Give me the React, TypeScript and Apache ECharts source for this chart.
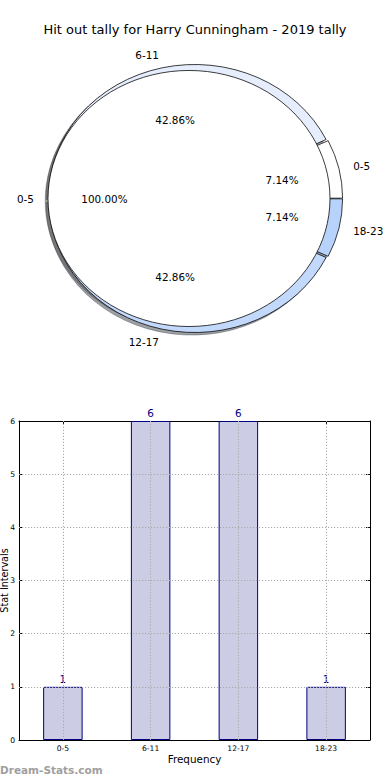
import React, { useEffect, useRef } from "react";
import * as echarts from "echarts";

// ---------- data ----------
const titleText = "Hit out tally for Harry Cunningham - 2019 tally";

const innerLabels = ["0-5"];
const innerValues = [1];
const innerColors = ["#ffffff"];
const innerExplode = [0];

const outerLabels = ["0-5", "6-11", "12-17", "18-23"];
const outerValues = [1, 6, 6, 1];
const outerColors = ["#ffffff", "#e6eefd", "#c3d9fb", "#b7d3fb"];
const outerExplode = [0.012, 0.012, 0.012, 0.012];

const barCategories = ["0-5", "6-11", "12-17", "18-23"];
const barValues = [1, 6, 6, 1];
const yGridValues = [1, 2, 3, 4, 5];

const xAxisTitle = "Frequency";
const yAxisTitle = "Stat Intervals";
const watermark = "Dream-Stats.com";

// ---------- layout / style ----------
const FONT = "DejaVu Sans";
const SX = 141; // px per pie unit, horizontal
const SY = 128; // px per pie unit, vertical
const innerPie = { cx: 189, cy: 198.5, r: 1 };
const outerPie = { cx: 195, cy: 198.5, r: 1.035 };
const SHADOW_DX = -0.02;
const SHADOW_DY = -0.02;

function shade(hex: string): string {
  const h = hex.replace("#", "");
  const r = parseInt(h.slice(0, 2), 16);
  const g = parseInt(h.slice(2, 4), 16);
  const b = parseInt(h.slice(4, 6), 16);
  return `rgba(${Math.round(r * 0.3)},${Math.round(g * 0.3)},${Math.round(b * 0.3)},0.5)`;
}

function wedgeGeom(values: number[], explode: number[], i: number) {
  const total = values.reduce((a, b) => a + b, 0);
  let cum = 0;
  for (let k = 0; k < i; k++) cum += values[k];
  const t1 = (2 * Math.PI * cum) / total;
  const t2 = (2 * Math.PI * (cum + values[i])) / total;
  const tm = (t1 + t2) / 2;
  const ex = explode[i] || 0;
  return { total, t1, t2, tm, ox: ex * Math.cos(tm), oy: ex * Math.sin(tm) };
}

function makeWedgeSeries(
  name: string,
  values: number[],
  colors: string[],
  explode: number[],
  pie: { cx: number; cy: number; r: number },
  asShadow: boolean,
  z: number
) {
  return {
    type: "custom",
    name,
    coordinateSystem: "none",
    silent: true,
    z,
    data: values,
    renderItem: (params: any) => {
      const i = params.dataIndex;
      const g = wedgeGeom(values, explode, i);
      let px = pie.cx + g.ox * SX;
      let py = pie.cy - g.oy * SY;
      if (asShadow) {
        px += SHADOW_DX * SX;
        py -= SHADOW_DY * SY;
      }
      const col = asShadow ? shade(colors[i]) : colors[i];
      return {
        type: "group",
        x: px,
        y: py,
        scaleY: SY / SX,
        children: [
          {
            type: "sector",
            shape: {
              cx: 0,
              cy: 0,
              r0: 0,
              r: pie.r * SX,
              startAngle: -g.t2,
              endAngle: -g.t1,
              clockwise: true,
            },
            style: {
              fill: col,
              stroke: asShadow ? col : "#000000",
              lineWidth: 0.8,
              strokeNoScale: true,
            },
          },
        ],
      };
    },
  };
}

function makeLabelSeries(
  name: string,
  values: number[],
  labels: string[],
  explode: number[],
  pie: { cx: number; cy: number; r: number },
  z: number
) {
  return {
    type: "custom",
    name,
    coordinateSystem: "none",
    silent: true,
    z,
    data: values,
    renderItem: (params: any) => {
      const i = params.dataIndex;
      const g = wedgeGeom(values, explode, i);
      const lx = g.ox + 1.1 * pie.r * Math.cos(g.tm);
      const ly = g.oy + 1.1 * pie.r * Math.sin(g.tm);
      const qx = g.ox + 0.6 * pie.r * Math.cos(g.tm);
      const qy = g.oy + 0.6 * pie.r * Math.sin(g.tm);
      const pct = ((100 * values[i]) / g.total).toFixed(2) + "%";
      return {
        type: "group",
        children: [
          {
            type: "text",
            x: pie.cx + lx * SX,
            y: pie.cy - ly * SY,
            style: {
              text: labels[i],
              fill: "#000000",
              font: `10.4px "${FONT}"`,
              align: lx > 0 ? "left" : "right",
              verticalAlign: "middle",
            },
          },
          {
            type: "text",
            x: pie.cx + qx * SX,
            y: pie.cy - qy * SY,
            style: {
              text: pct,
              fill: "#000000",
              font: `10.4px "${FONT}"`,
              align: "center",
              verticalAlign: "middle",
            },
          },
        ],
      };
    },
  };
}

export default function App() {
  const ref = useRef<HTMLDivElement>(null);

  useEffect(() => {
    if (!ref.current) return;
    const chart = echarts.init(ref.current, null, { renderer: "svg" });

    const axisLineStyle = { color: "#000000", width: 1 };
    const gridLineStyle = { color: "#aaaaaa", width: 1, type: [1.2, 1.8] as any };

    chart.setOption({
      animation: false,
      backgroundColor: "#ffffff",
      title: {
        text: titleText,
        left: "center",
        top: 23,
        padding: 0,
        textStyle: {
          fontFamily: FONT,
          fontSize: 13,
          fontWeight: "normal",
          color: "#000000",
        },
      },
      graphic: [
        {
          type: "text",
          left: 0,
          top: 764,
          style: {
            text: watermark,
            fill: "#a0a0a0",
            font: `bold 10.5px "${FONT}"`,
          },
        },
      ],
      grid: {
        left: 19,
        right: 20,
        top: 421,
        bottom: 40,
        show: false,
        containLabel: false,
        outerBoundsMode: "none",
      },
      xAxis: [
        {
          type: "category",
          data: barCategories,
          position: "bottom",
          axisLine: { show: true, onZero: false, lineStyle: axisLineStyle },
          axisTick: { show: true, inside: true, alignWithLabel: true, length: 4, lineStyle: axisLineStyle },
          axisLabel: { fontFamily: FONT, fontSize: 7.6, color: "#000000", margin: 4 },
          splitLine: { show: false },
          name: xAxisTitle,
          nameLocation: "middle",
          nameGap: 14,
          nameMoveOverlap: false,
          nameTextStyle: { fontFamily: FONT, fontSize: 10.4, color: "#000000" },
        },
        {
          type: "category",
          data: barCategories,
          position: "top",
          axisLine: { show: true, onZero: false, lineStyle: axisLineStyle },
          axisTick: { show: true, inside: true, alignWithLabel: true, length: 4, lineStyle: axisLineStyle },
          axisLabel: { show: false },
          splitLine: { show: false },
        },
      ],
      yAxis: [
        {
          type: "value",
          min: 0,
          max: 6,
          interval: 1,
          position: "left",
          axisLine: { show: true, onZero: false, lineStyle: axisLineStyle },
          axisTick: { show: true, inside: true, length: 4, lineStyle: axisLineStyle },
          axisLabel: { fontFamily: FONT, fontSize: 7.6, color: "#000000", margin: 4 },
          splitLine: { show: false },
          name: yAxisTitle,
          nameLocation: "middle",
          nameRotate: 90,
          nameGap: 9.5,
          nameMoveOverlap: false,
          nameTextStyle: { fontFamily: FONT, fontSize: 9.6, color: "#000000" },
        },
        {
          type: "value",
          min: 0,
          max: 6,
          interval: 1,
          position: "right",
          axisLine: { show: true, onZero: false, lineStyle: axisLineStyle },
          axisTick: { show: true, inside: true, length: 4, lineStyle: axisLineStyle },
          axisLabel: { show: false },
          splitLine: { show: false },
        },
      ],
      series: [
        makeWedgeSeries("outerShadow", outerValues, outerColors, outerExplode, outerPie, true, 1),
        makeWedgeSeries("innerShadow", innerValues, innerColors, innerExplode, innerPie, true, 1),
        makeWedgeSeries("outerWedges", outerValues, outerColors, outerExplode, outerPie, false, 2),
        makeWedgeSeries("innerWedges", innerValues, innerColors, innerExplode, innerPie, false, 3),
        makeLabelSeries("outerLabels", outerValues, outerLabels, outerExplode, outerPie, 4),
        makeLabelSeries("innerLabels", innerValues, innerLabels, innerExplode, innerPie, 4),
        {
          type: "bar",
          name: "tally",
          xAxisIndex: 0,
          yAxisIndex: 0,
          data: barValues,
          barWidth: "45%",
          itemStyle: { color: "#ccccE4", borderColor: "#000080", borderWidth: 1 },
          label: {
            show: true,
            position: "top",
            distance: 3,
            color: "#000080",
            fontFamily: FONT,
            fontSize: 10.4,
          },
          markLine: {
            silent: true,
            symbol: ["none", "none"],
            label: { show: false },
            lineStyle: gridLineStyle,
            data: [
              ...barCategories.map((c) => ({ xAxis: c })),
              ...yGridValues.map((v) => ({ yAxis: v })),
            ],
          },
        },
      ],
    });

    return () => chart.dispose();
  }, []);

  return (
    <div
      ref={ref}
      style={{ position: "fixed", left: 0, top: 0, width: 390, height: 780, background: "#fff" }}
    />
  );
}
